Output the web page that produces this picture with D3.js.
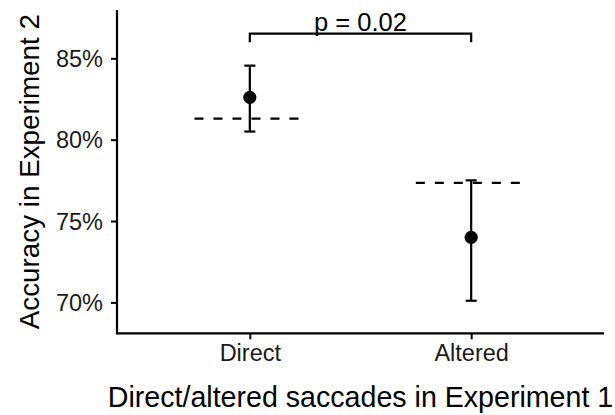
<!DOCTYPE html>
<html>
<head>
<meta charset="utf-8">
<script src="https://cdn.jsdelivr.net/npm/d3@7/dist/d3.min.js"></script>
<style>
  html, body { margin: 0; padding: 0; background: #fff; }
  svg { display: block; font-family: "Liberation Sans", Arial, Helvetica, sans-serif; }
</style>
</head>
<body>
<svg id="chart" width="615" height="415"></svg>
<script>
// Saccade conditions from Experiment 1
const categories = ["Direct", "Altered"];
// Mean accuracy in Experiment 2 (%)
const meanAccuracy = [82.6, 74.0];
// Error bar limits (%)
const lowerBound = [80.5, 70.1];
const upperBound = [84.55, 77.5];
// Reference level for each condition (dashed lines, %)
const referenceLevel = [81.3, 77.35];
// Y-axis ticks (%)
const yTicks = [70, 75, 80, 85];
// Pairwise comparison annotation
const comparison = { from: "Direct", to: "Altered", label: "p = 0.02", level: 86.52 };

const svg = d3.select("#chart");
const plotLeft = 117, plotRight = 604, plotTop = 10, plotBottom = 333.3;

const x = d3.scalePoint().domain(categories).range([plotLeft, plotRight]).padding(0.6);
const y = d3.scaleLinear().domain([68.1, 87.97]).range([plotBottom, plotTop]);
const step = x.step();

const rows = categories.map((c, i) => ({
  cat: c, mean: meanAccuracy[i], lo: lowerBound[i], hi: upperBound[i], ref: referenceLevel[i]
}));

// Axes
const yAxis = d3.axisLeft(y).tickValues(yTicks).tickFormat(d => d + "%").tickSize(6).tickPadding(8);
const xAxis = d3.axisBottom(x).tickSize(6).tickPadding(5);

const gy = svg.append("g").attr("transform", `translate(${plotLeft},0)`).call(yAxis);
const gx = svg.append("g").attr("transform", `translate(0,${plotBottom})`).call(xAxis);

[gy, gx].forEach(g => {
  g.select(".domain").remove();
  g.selectAll(".tick line").attr("stroke", "#000").attr("stroke-width", 2);
  g.selectAll(".tick text").attr("fill", "#1a1a1a").style("font-size", "23.5px")
    .style("font-family", "'Liberation Sans', Arial, Helvetica, sans-serif");
});
gy.selectAll(".tick text").attr("dy", "0.34em");
gx.selectAll(".tick text").attr("dy", "0.71em");

// Axis lines
svg.append("line").attr("x1", plotLeft).attr("x2", plotLeft).attr("y1", plotTop).attr("y2", plotBottom + 1)
  .attr("stroke", "#000").attr("stroke-width", 2.2);
svg.append("line").attr("x1", plotLeft - 1).attr("x2", plotRight).attr("y1", plotBottom).attr("y2", plotBottom)
  .attr("stroke", "#000").attr("stroke-width", 2.2);

// Dashed reference lines
svg.append("g").selectAll("line").data(rows).join("line")
  .attr("x1", d => x(d.cat) - step * 0.25)
  .attr("x2", d => x(d.cat) + step * 0.25)
  .attr("y1", d => y(d.ref)).attr("y2", d => y(d.ref))
  .attr("stroke", "#000").attr("stroke-width", 2.2)
  .attr("stroke-dasharray", "9,10");

// Error bars
const eb = svg.append("g").selectAll("g").data(rows).join("g");
eb.append("line")
  .attr("x1", d => x(d.cat)).attr("x2", d => x(d.cat))
  .attr("y1", d => y(d.lo)).attr("y2", d => y(d.hi))
  .attr("stroke", "#000").attr("stroke-width", 2.2);
eb.append("line")
  .attr("x1", d => x(d.cat) - step * 0.025).attr("x2", d => x(d.cat) + step * 0.025)
  .attr("y1", d => y(d.hi)).attr("y2", d => y(d.hi))
  .attr("stroke", "#000").attr("stroke-width", 2.2);
eb.append("line")
  .attr("x1", d => x(d.cat) - step * 0.025).attr("x2", d => x(d.cat) + step * 0.025)
  .attr("y1", d => y(d.lo)).attr("y2", d => y(d.lo))
  .attr("stroke", "#000").attr("stroke-width", 2.2);

// Mean points
svg.append("g").selectAll("circle").data(rows).join("circle")
  .attr("cx", d => x(d.cat)).attr("cy", d => y(d.mean))
  .attr("r", 6.6).attr("fill", "#000");

// Comparison bracket
const bx1 = x(comparison.from), bx2 = x(comparison.to), by = y(comparison.level);
svg.append("path")
  .attr("d", `M${bx1},${by + 8.6}V${by}H${bx2}V${by + 8.6}`)
  .attr("fill", "none").attr("stroke", "#000").attr("stroke-width", 2.2);
svg.append("text")
  .attr("x", (bx1 + bx2) / 2).attr("y", by - 2.6)
  .attr("text-anchor", "middle").attr("fill", "#000")
  .style("font-size", "25.5px")
  .text(comparison.label);

// Axis titles
svg.append("text")
  .attr("x", (plotLeft + plotRight) / 2).attr("y", 406.5)
  .attr("text-anchor", "middle").attr("fill", "#000")
  .style("font-size", "28.6px")
  .text("Direct/altered saccades in Experiment 1");
svg.append("text")
  .attr("transform", `translate(38.5,${(plotTop + plotBottom) / 2}) rotate(-90)`)
  .attr("text-anchor", "middle").attr("fill", "#000")
  .style("font-size", "27.8px")
  .text("Accuracy in Experiment 2");
</script>
</body>
</html>
